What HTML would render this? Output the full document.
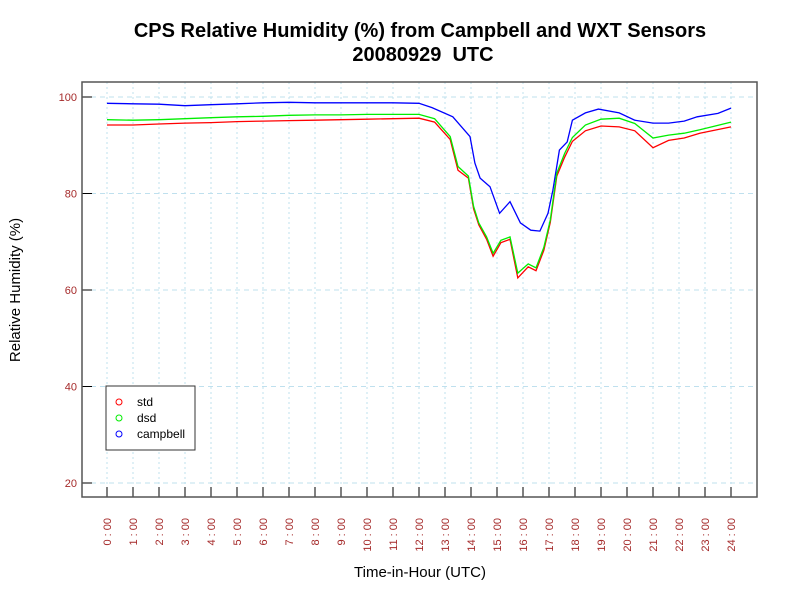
<!DOCTYPE html>
<html><head><meta charset="utf-8"><style>
body{margin:0;background:#fff}
svg{display:block;font-family:"Liberation Sans",sans-serif}
</style></head><body>
<svg id="c" width="800" height="600"></svg>
<script>
const hoursCamp=[0,1,2,3,4,5,6,7,8,9,10,11,12,12.5,13.3,13.96,14.15,14.35,14.73,15.1,15.5,15.9,16.3,16.65,16.96,17.15,17.4,17.7,17.9,18.4,18.9,19.7,20.3,21,21.6,22.2,22.7,23.5,24];
const campbell=[98.7,98.6,98.5,98.2,98.4,98.6,98.8,98.9,98.8,98.8,98.8,98.8,98.7,97.8,95.9,91.8,86.3,83.2,81.4,75.9,78.3,73.9,72.4,72.2,75.9,80.7,89,90.7,95.2,96.7,97.5,96.7,95.2,94.6,94.6,95,95.9,96.6,97.7];
const hoursDsd=[0,1,2,3,4,5,6,7,8,9,10,11,12,12.6,13.2,13.5,13.9,14.1,14.3,14.6,14.85,15.15,15.5,15.8,16.2,16.5,16.8,17.05,17.3,17.6,17.9,18.4,19,19.7,20.3,21,21.6,22.2,22.8,24];
const dsd=[95.3,95.2,95.3,95.5,95.7,95.9,96,96.2,96.3,96.3,96.4,96.4,96.4,95.5,91.8,85.6,83.6,77.3,73.9,71,67.6,70.3,71,63.5,65.4,64.6,68.8,74.5,84.2,88.3,91.6,94.2,95.4,95.6,94.5,91.5,92.1,92.5,93.2,94.8];
const stdv=[94.2,94.2,94.4,94.6,94.7,94.9,95,95.1,95.2,95.3,95.4,95.5,95.6,94.8,91.2,84.8,83.2,76.8,73.5,70.5,67,69.8,70.5,62.5,64.8,64,68.2,74,83.6,87.5,90.8,93,94,93.8,93,89.5,91,91.5,92.5,93.8];
const yTicks=[20,40,60,80,100];
const xTicks=[];for(let h=0;h<=24;h++)xTicks.push(h+":00");
const NS="http://www.w3.org/2000/svg",svg=document.getElementById('c');
const xs=h=>107+26*h, ys=v=>97+(100-v)*4.825;
function el(t,a,txt){const e=document.createElementNS(NS,t);for(const k in a)e.setAttribute(k,a[k]);if(txt!==undefined)e.textContent=txt;svg.appendChild(e);return e;}
let e;
e=el('text',{x:420,y:37,'text-anchor':'middle','font-size':20,'font-weight':'bold'},'CPS Relative Humidity (%) from Campbell and WXT Sensors');


e=el('text',{x:423,y:61,'text-anchor':'middle','font-size':20,'font-weight':'bold',style:'white-space:pre'},'20080929  UTC');


yTicks.forEach(v=>{
 e=el('line',{x1:82,x2:757,y1:ys(v),y2:ys(v),stroke:'#bfe0ee','stroke-dasharray':'5,4'});
 
 
 e=el('line',{x1:82,x2:92,y1:ys(v),y2:ys(v),stroke:'#000'});
 
 
 e=el('text',{x:77,y:ys(v)+4,'text-anchor':'end','font-size':11,fill:'#a52a2a'},v);
 
 
});
xTicks.forEach((l,i)=>{
 const x=xs(i);
 e=el('line',{x1:x,x2:x,y1:82,y2:497,stroke:'#bfe0ee','stroke-dasharray':'2,3'});
 
 
 e=el('line',{x1:x,x2:x,y1:487,y2:497,stroke:'#000'});
 
 
 e=el('text',{x:0,y:0,'text-anchor':'end','font-size':11,fill:'#a52a2a',transform:`translate(${x+4},518) rotate(-90)`},l.replace(':',' : '));
 
 
});
e=el('rect',{x:82,y:82,width:675,height:415,fill:'none',stroke:'#555','stroke-width':1.5});


function line(hs,vs,c,n){
 const d=hs.map((h,i)=>(i?'L':'M')+xs(h).toFixed(1)+','+ys(vs[i]).toFixed(1)).join('');
 const p=el('path',{d:d,fill:'none',stroke:c,'stroke-width':1.3});
 
 
}
line(hoursCamp,campbell,'#0000ff','campbell-line');
line(hoursDsd,stdv,'#ff0000','std-line');
line(hoursDsd,dsd,'#00ee00','dsd-line');
e=el('rect',{x:106,y:386,width:89,height:64,fill:'#fff',stroke:'#333'});


[['std','#ff0000'],['dsd','#00ee00'],['campbell','#0000ff']].forEach((s,i)=>{
 const y=402+16*i;
 e=el('circle',{cx:119,cy:y,r:3,fill:'none',stroke:s[1]});
 
 
 e=el('text',{x:137,y:y+4,'font-size':12},s[0]);
 
 
});
e=el('text',{x:420,y:577,'text-anchor':'middle','font-size':15},'Time-in-Hour (UTC)');


e=el('text',{x:0,y:0,'text-anchor':'middle','font-size':15,transform:'translate(20,290) rotate(-90)'},'Relative Humidity (%)');


</script>
</body></html>
